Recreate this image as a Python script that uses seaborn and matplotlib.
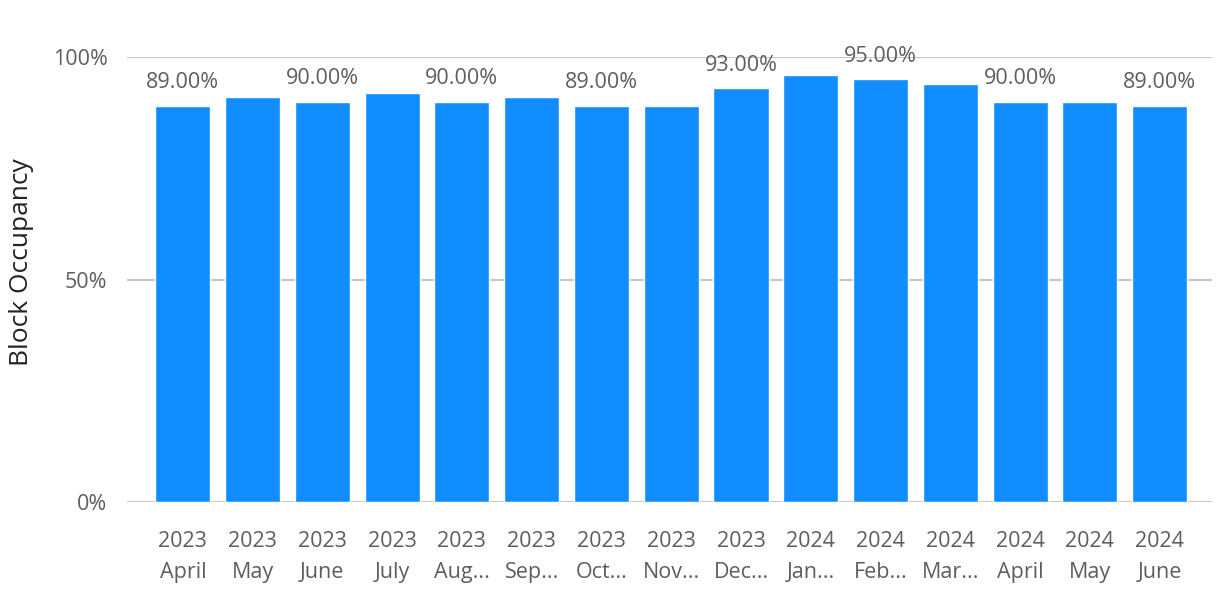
import matplotlib
matplotlib.use("Agg")
import matplotlib.pyplot as plt
import seaborn as sns
import pandas as pd

# Monthly block occupancy
years = ["2023"] * 9 + ["2024"] * 6
months = ["April", "May", "June", "July", "Aug...", "Sep...", "Oct...", "Nov...",
          "Dec...", "Jan...", "Feb...", "Mar...", "April", "May", "June"]
occupancy = [0.89, 0.91, 0.90, 0.92, 0.90, 0.91, 0.89, 0.89,
             0.93, 0.96, 0.95, 0.94, 0.90, 0.90, 0.89]
labelled = [True, False] * 7 + [True]

tick_labels = [f"{y}\n{m}" for y, m in zip(years, months)]
df = pd.DataFrame({"period": tick_labels, "occupancy": occupancy})

sns.set_theme(style="white")
plt.rcParams["font.family"] = ["Open Sans", "DejaVu Sans"]

fig = plt.figure(figsize=(12.16, 5.92), dpi=100)
ax = fig.add_axes([127 / 1216, 90 / 592, 1085 / 1216, 445 / 592])

sns.barplot(data=df, x="period", y="occupancy", color="#118DFF",
            saturation=1, width=0.79, ax=ax, zorder=3)

ax.set_ylim(0, 1.0)
ax.set_xlim(-0.8, 14.75)
ax.set_yticks([0, 0.5, 1.0])
ax.set_yticklabels(["0%", "50%", "100%"])
ax.yaxis.grid(True, color="#C8C6C4", linewidth=1.5, zorder=0)
ax.xaxis.grid(False)
for s in ax.spines.values():
    s.set_visible(False)

ax.tick_params(axis="y", length=0, pad=14, labelsize=15.5, labelcolor="#605E5C")
ax.tick_params(axis="x", length=0, pad=21, labelsize=15.5, labelcolor="#605E5C")
for t in ax.get_xticklabels():
    t.set_linespacing(1.6)
ax.set_xlabel("")
ax.set_ylabel("Block Occupancy", fontsize=19, color="#252423",
              fontweight="medium")
ax.yaxis.set_label_coords(-0.086, 0.54)

for i, (v, show) in enumerate(zip(occupancy, labelled)):
    if show:
        ax.annotate(f"{v * 100:.2f}%", (i, v), xytext=(0, 9),
                    textcoords="offset points", ha="center", va="bottom",
                    fontsize=15.5, color="#605E5C", annotation_clip=False)

fig.savefig("out.png", dpi=100, facecolor="white")
